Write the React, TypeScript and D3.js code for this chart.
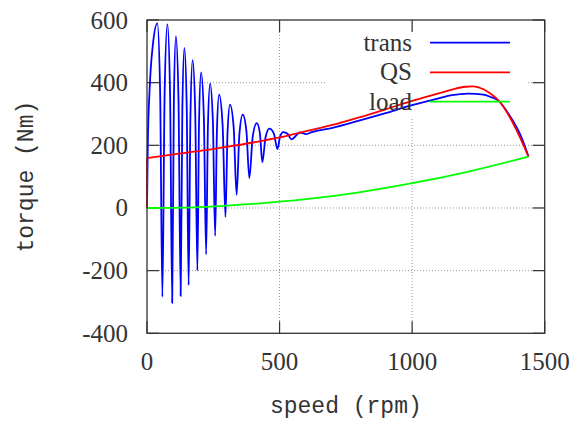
import React from "react";
import * as d3 from "d3";

const speedTicks = [0, 500, 1000, 1500];
const torqueTicks = [-400, -200, 0, 200, 400, 600];

// [speed rpm, torque Nm]
const transCurve: [number, number][] = [
  [0, 0], [3, 200], [10, 380], [22, 520], [39, 589], [49.5, 371],
  [58, -284], [66.5, 368], [77, 586], [87, 364],
  [95, -303], [101.3, 335], [109, 548], [118.9, 341],
  [127, -281], [133.3, 313], [141, 511], [149.8, 322],
  [157, -246], [163.8, 292], [172, 472], [181.9, 304],
  [190, -200], [196.3, 275], [204, 433], [214.5, 288],
  [223, -148], [229.8, 261], [238, 397], [248.5, 275],
  [257, -89], [263.8, 249], [272, 362], [285.2, 264],
  [296, -29], [303.7, 240], [313, 330], [326.8, 258],
  [338, 42], [348.4, 234], [361, 298], [374.8, 247],
  [386, 95], [398.6, 227], [414, 271], [425.6, 240],
  [435, 146], [447.2, 226], [462, 253], [478.5, 237],
  [492, 188], [501.9, 228], [514, 242], [531, 236],
  [545, 219], [577, 241], [600, 236], [625, 243],
  [700, 256], [800, 279], [900, 303], [1000, 328],
  [1100, 350], [1150, 360], [1212, 365], [1269, 362],
  [1300, 353], [1326, 342], [1370, 292], [1408, 234], [1439, 164],
];

const qsCurve: [number, number][] = [
  [0, 0], [0, 159], [100, 171], [200, 182], [300, 195], [400, 209],
  [500, 225], [600, 245], [700, 265], [800, 289], [900, 315],
  [1000, 342], [1100, 366], [1150, 378], [1200, 387], [1230, 388],
  [1269, 379], [1294, 366], [1326, 343], [1370, 287], [1408, 223], [1439, 164],
];

const loadCurve: [number, number][] = [
  [0, 0], [200, 3], [400, 13], [600, 28], [800, 50], [1000, 79],
  [1200, 114], [1439, 164],
];

const seriesNames = ["trans", "QS", "load"];
const seriesColors = ["#0000ff", "#ff0000", "#00ff00"];

export default function App() {
  const W = 581, H = 421;
  const x = d3.scaleLinear().domain([0, 1500]).range([147, 544.7]);
  const y = d3.scaleLinear().domain([-400, 600]).range([333.3, 20]);
  const [x0, x1] = x.range();
  const [y0, y1] = y.range();
  const smooth = d3
    .line<[number, number]>()
    .x((d) => x(d[0]))
    .y((d) => y(d[1]))
    .curve(d3.curveMonotoneX);
  const straight = d3
    .line<[number, number]>()
    .x((d) => x(d[0]))
    .y((d) => y(d[1]));
  // segments where x repeats are drawn straight, the rest smooth
  const pathFor = (d: [number, number][]) => {
    const parts: string[] = [];
    let start = 0;
    for (let i = 1; i < d.length; i++) {
      if (d[i][0] === d[i - 1][0]) {
        if (i - 1 > start) parts.push(smooth(d.slice(start, i)) || "");
        parts.push(straight(d.slice(i - 1, i + 1)) || "");
        start = i;
      }
    }
    if (d.length - 1 > start) parts.push(smooth(d.slice(start)) || "");
    return parts.join(" ");
  };
  const data = [transCurve, qsCurve, loadCurve];
  const serif = "'Liberation Serif', 'Times New Roman', serif";
  const mono = "'Liberation Mono', 'Courier New', monospace";
  const tickLen = 12;
  const legendRight = 412;
  const legendY = [42.7, 72.3, 101.7];

  return (
    <svg
      width={W}
      height={H}
      style={{ position: "absolute", left: 0, top: 0, background: "#fff" }}
    >
      <rect x={0} y={0} width={W} height={H} fill="#fff" />
      {/* grid */}
      <g stroke="#999" strokeWidth={1} strokeDasharray="1,2">
        {speedTicks
          .filter((t) => t > 0 && t < 1500)
          .map((t) => (
            <line key={"gx" + t} x1={x(t)} x2={x(t)} y1={y1} y2={y0} />
          ))}
        {torqueTicks
          .filter((t) => t > -400 && t < 600)
          .map((t) => (
            <line key={"gy" + t} x1={x0} x2={x1} y1={y(t)} y2={y(t)} />
          ))}
      </g>
      {/* opaque key background */}
      <rect x={325} y={32} width={202} height={85} fill="#fff" />
      {/* ticks */}
      <g stroke="#333" strokeWidth={1.2}>
        {speedTicks.map((t) => (
          <g key={"tx" + t}>
            <line x1={x(t)} x2={x(t)} y1={y0} y2={y0 - tickLen} />
            <line x1={x(t)} x2={x(t)} y1={y1} y2={y1 + tickLen} />
          </g>
        ))}
        {torqueTicks.map((t) => (
          <g key={"ty" + t}>
            <line x1={x0} x2={x0 + tickLen} y1={y(t)} y2={y(t)} />
            <line x1={x1} x2={x1 - tickLen} y1={y(t)} y2={y(t)} />
          </g>
        ))}
      </g>
      {/* curves and key */}
      {data.map((d, i) => (
        <g key={"s" + i}>
          <path d={pathFor(d)} fill="none" stroke={seriesColors[i]} strokeWidth={1.8} strokeLinejoin="round" />
          <line x1={430} x2={510} y1={legendY[i]} y2={legendY[i]} stroke={seriesColors[i]} strokeWidth={1.8} />
          <text
            x={legendRight}
            y={legendY[i] + 8}
            textAnchor="end"
            fontFamily={serif}
            fontSize={25}
            fill="#333"
          >
            {seriesNames[i]}
          </text>
        </g>
      ))}
      {/* border */}
      <rect x={x0} y={y1} width={x1 - x0} height={y0 - y1} fill="none" stroke="#333" strokeWidth={1.3} />
      {/* tick labels */}
      {speedTicks.map((t) => (
        <text key={"lx" + t} x={x(t)} y={370} textAnchor="middle" fontFamily={serif} fontSize={25} fill="#333">
          {t}
        </text>
      ))}
      {torqueTicks.map((t) => (
        <text key={"ly" + t} x={128} y={y(t) + 8.5} textAnchor="end" fontFamily={serif} fontSize={25} fill="#333">
          {t}
        </text>
      ))}
      {/* axis titles */}
      <text x={(x0 + x1) / 2} y={413} textAnchor="middle" fontFamily={mono} fontSize={23} fill="#333">
        speed (rpm)
      </text>
      <text
        transform={`translate(33,${(y0 + y1) / 2}) rotate(-90)`}
        textAnchor="middle"
        fontFamily={mono}
        fontSize={23}
        fill="#333"
      >
        torque (Nm)
      </text>
    </svg>
  );
}
